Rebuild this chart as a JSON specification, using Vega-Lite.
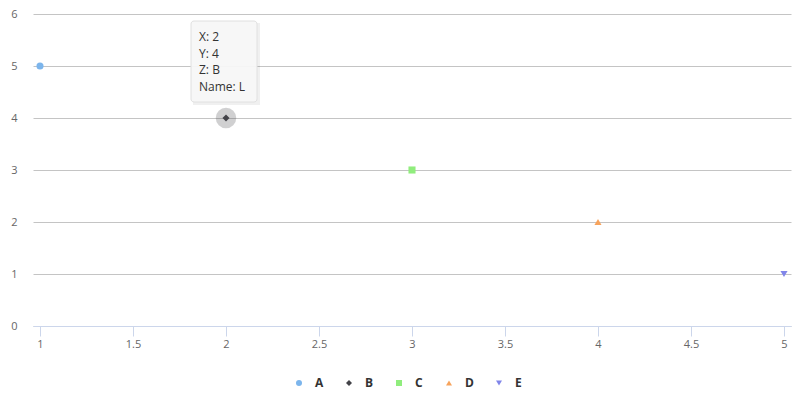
{
  "$schema": "https://vega.github.io/schema/vega-lite/v6.json",
  "width": 758,
  "height": 312,
  "autosize": "none",
  "padding": {"left": 33, "top": 14, "right": 14, "bottom": 70},
  "background": "#ffffff",
  "config": {
    "view": {"stroke": null},
    "font": "Open Sans",
    "axis": {"labelFont": "Open Sans", "labelFontSize": 11, "labelColor": "#666666"}
  },
  "datasets": {
    "pts": [
      {"x": 1, "y": 5, "series": "A", "name": "H"},
      {"x": 2, "y": 4, "series": "B", "name": "L"},
      {"x": 3, "y": 3, "series": "C", "name": "M"},
      {"x": 4, "y": 2, "series": "D", "name": "N"},
      {"x": 5, "y": 1, "series": "E", "name": "O"}
    ],
    "tip": [
      {"x": 2, "y": 4, "label": "X: 2\nY: 4\nZ: B\nName: L"}
    ]
  },
  "layer": [
    {
      "data": {"name": "pts"},
      "transform": [{"filter": "datum.series === 'B'"}],
      "mark": {"type": "point", "shape": "circle", "filled": true, "size": 420, "color": "#434348", "opacity": 0.25},
      "encoding": {
        "x": {"field": "x", "type": "quantitative", "scale": {"domain": [1, 5], "nice": false, "zero": false, "padding": 7},
          "axis": {"values": [1, 1.5, 2, 2.5, 3, 3.5, 4, 4.5, 5], "format": "~g", "title": null, "grid": false, "domainColor": "#ccd6eb", "tickColor": "#ccd6eb", "tickSize": 10, "labelPadding": 2, "labelFlush": false}},
        "y": {"field": "y", "type": "quantitative", "scale": {"domain": [0, 6], "nice": false},
          "axis": {"values": [0, 1, 2, 3, 4, 5, 6], "title": null, "domain": false, "ticks": false, "grid": true, "gridColor": "#c4c4c4", "gridWidth": 1, "labelPadding": 16}}
      }
    },
    {
      "data": {"name": "pts"},
      "mark": {"type": "point", "filled": true, "size": 50, "opacity": 1, "strokeWidth": 0},
      "encoding": {
        "x": {"field": "x", "type": "quantitative"},
        "y": {"field": "y", "type": "quantitative"},
        "color": {"field": "series", "type": "nominal",
          "scale": {"domain": ["A", "B", "C", "D", "E"], "range": ["#7cb5ec", "#434348", "#90ed7d", "#f7a35c", "#8085e9"]},
          "legend": {"title": null, "orient": "none", "legendX": 260, "legendY": 363, "direction": "horizontal", "columns": 5, "gridAlign": "all",
            "symbolSize": 36, "symbolStrokeWidth": 0, "labelFont": "Open Sans", "labelFontSize": 12, "labelFontWeight": "bold", "labelColor": "#333333",
            "labelOffset": 10, "columnPadding": 19, "symbolOpacity": 1}},
        "shape": {"field": "series", "type": "nominal",
          "scale": {"domain": ["A", "B", "C", "D", "E"], "range": ["circle", "diamond", "square", "triangle-up", "triangle-down"]}}
      }
    },
    {
      "data": {"name": "tip"},
      "mark": {"type": "rect", "fill": "#000000", "opacity": 0.06, "xOffset": -33, "x2Offset": 34, "yOffset": -95, "y2Offset": -13},
      "encoding": {
        "x": {"field": "x", "type": "quantitative"}, "x2": {"field": "x"},
        "y": {"field": "y", "type": "quantitative"}, "y2": {"field": "y"}
      }
    },
    {
      "data": {"name": "tip"},
      "mark": {"type": "rect", "fill": "#f7f7f7", "fillOpacity": 0.95, "stroke": "#e0e0e0", "strokeWidth": 1, "cornerRadius": 3, "xOffset": -35, "x2Offset": 31, "yOffset": -97, "y2Offset": -16},
      "encoding": {
        "x": {"field": "x", "type": "quantitative"}, "x2": {"field": "x"},
        "y": {"field": "y", "type": "quantitative"}, "y2": {"field": "y"}
      }
    },
    {
      "data": {"name": "tip"},
      "mark": {"type": "text", "align": "left", "baseline": "top", "dx": -27, "dy": -86, "lineBreak": "\n", "lineHeight": 16.5, "fontSize": 12, "font": "Open Sans", "color": "#333333"},
      "encoding": {
        "x": {"field": "x", "type": "quantitative"},
        "y": {"field": "y", "type": "quantitative"},
        "text": {"field": "label", "type": "nominal"}
      }
    }
  ]
}
